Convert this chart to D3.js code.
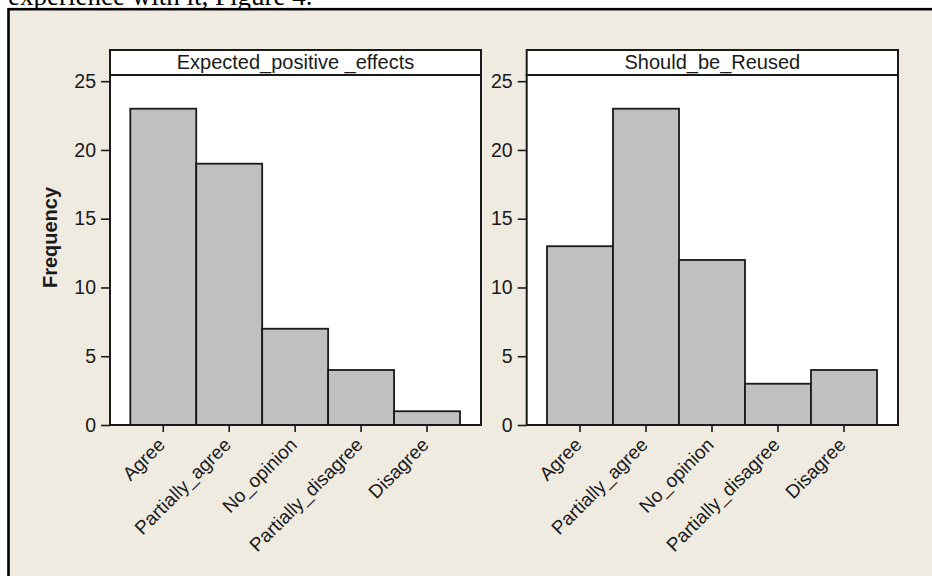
<!DOCTYPE html>
<html>
<head>
<meta charset="utf-8">
<script src="https://cdn.jsdelivr.net/npm/d3@7"></script>
<style>
  html, body { margin: 0; padding: 0; background: #ffffff; }
  svg { display: block; }
  text { font-family: "Liberation Sans", Arial, sans-serif; fill: #1a1a1a; }
</style>
</head>
<body>
<svg id="chart" width="932" height="576"></svg>
<script>
// ---- data ----
const categories = ["Agree", "Partially_agree", "No_opinion", "Partially_disagree", "Disagree"];
const panelTitles = ["Expected_positive _effects", "Should_be_Reused"];
const expectedPositiveEffects = [23, 19, 7, 4, 1];
const shouldBeReused = [13, 23, 12, 3, 4];
const yTicks = [0, 5, 10, 15, 20, 25];
const yLabel = "Frequency";
const caption = "experience with it, Figure 4.";

const seriesList = [expectedPositiveEffects, shouldBeReused];

const svg = d3.select("#chart");

// caption text (cut at top, as in the source page)
svg.append("text")
  .attr("x", 8).attr("y", 4.5)
  .style("font-family", "'Liberation Serif', 'Times New Roman', serif")
  .style("font-size", "27px")
  .style("fill", "#000")
  .text(caption);

// outer frame
svg.append("rect")
  .attr("x", 8.5).attr("y", 9.2)
  .attr("width", 1000).attr("height", 1000)
  .attr("fill", "#EFEBE1")
  .attr("stroke", "#000").attr("stroke-width", 2.6);

// layout
const stripTop = 50, plotTop = 75, plotBottom = 425;
const panels = [{x0: 110, x1: 481}, {x0: 526.7, x1: 898}];

const y = d3.scaleLinear().domain([0, 25.45]).range([plotBottom, plotTop]);

panels.forEach((p, i) => {
  const g = svg.append("g");
  const values = seriesList[i];
  const x = d3.scaleBand().domain(categories).range([p.x0 + 20.3, p.x1 - 21]).padding(0);

  // plot area
  g.append("rect")
    .attr("x", p.x0).attr("y", plotTop)
    .attr("width", p.x1 - p.x0).attr("height", plotBottom - plotTop)
    .attr("fill", "#fff");

  // bars
  g.selectAll("rect.bar").data(values).enter().append("rect")
    .attr("class", "bar")
    .attr("x", (d, j) => x(categories[j]))
    .attr("y", d => y(d))
    .attr("width", x.bandwidth())
    .attr("height", d => y(0) - y(d))
    .attr("fill", "#C0C0C0")
    .attr("stroke", "#1a1a1a").attr("stroke-width", 1.8);

  // plot border
  g.append("rect")
    .attr("x", p.x0).attr("y", plotTop)
    .attr("width", p.x1 - p.x0).attr("height", plotBottom - plotTop)
    .attr("fill", "none").attr("stroke", "#1a1a1a").attr("stroke-width", 2);

  // strip
  g.append("rect")
    .attr("x", p.x0).attr("y", stripTop)
    .attr("width", p.x1 - p.x0).attr("height", plotTop - stripTop)
    .attr("fill", "#fff").attr("stroke", "#1a1a1a").attr("stroke-width", 2);
  g.append("text")
    .attr("x", (p.x0 + p.x1) / 2).attr("y", 69)
    .attr("text-anchor", "middle")
    .style("font-size", "20px")
    .text(panelTitles[i]);

  // y axis
  const ya = g.append("g").attr("transform", `translate(${p.x0},0)`)
    .call(d3.axisLeft(y).tickValues(yTicks).tickSize(9).tickPadding(5));
  ya.select(".domain").remove();
  ya.selectAll(".tick line").attr("stroke", "#1a1a1a").attr("stroke-width", 1.6);
  ya.selectAll(".tick text")
    .style("font-family", "'Liberation Sans', Arial, sans-serif")
    .style("font-size", "19.5px").attr("fill", "#1a1a1a");

  // x axis
  const xa = g.append("g").attr("transform", `translate(0,${plotBottom})`)
    .call(d3.axisBottom(x).tickSize(7).tickFormat(""));
  xa.select(".domain").remove();
  xa.selectAll(".tick line").attr("stroke", "#1a1a1a").attr("stroke-width", 1.6);

  g.selectAll("text.xl").data(categories).enter().append("text")
    .attr("class", "xl")
    .attr("transform", d => `translate(${x(d) + x.bandwidth() / 2 + 3},${plotBottom + 21}) rotate(-45)`)
    .attr("text-anchor", "end")
    .style("font-size", "19px")
    .text(d => d);
});

// y label
svg.append("text")
  .attr("transform", "translate(57,237.5) rotate(-90)")
  .attr("text-anchor", "middle")
  .style("font-size", "20px").style("font-weight", "bold")
  .text(yLabel);
</script>
</body>
</html>
